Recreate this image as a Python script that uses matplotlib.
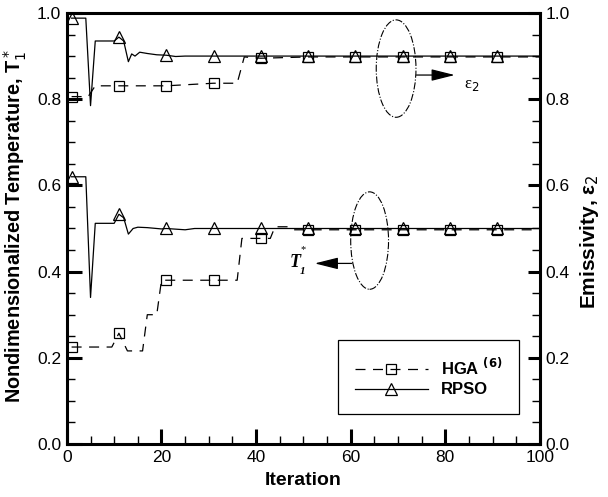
import numpy as np
import matplotlib
matplotlib.use("Agg")
import matplotlib.pyplot as plt
from matplotlib.patches import Ellipse
from matplotlib.ticker import MultipleLocator

plt.rcParams['font.family'] = ['Liberation Sans', 'DejaVu Sans']

# upper group: emissivity eps2
rpso_eps_it = [1, 4, 5, 6, 10, 11, 12, 13, 13.7, 14.4, 15.4, 17, 19, 21, 23, 25, 31, 41, 51, 61, 71, 81, 91, 100]
rpso_eps = [0.988, 0.988, 0.785, 0.935, 0.935, 0.944, 0.935, 0.887, 0.905, 0.900, 0.909, 0.906, 0.903,
            0.902, 0.899, 0.900, 0.900, 0.900, 0.900, 0.900, 0.900, 0.900, 0.900, 0.900]
hga_eps_it = [1, 4.5, 6, 11, 21, 31, 36, 37.5, 41, 51, 61, 71, 81, 91, 100]
hga_eps = [0.806, 0.806, 0.831, 0.831, 0.831, 0.837, 0.837, 0.898, 0.895, 0.898, 0.898, 0.898, 0.898, 0.898, 0.898]

# lower group: temperature T1*
rpso_t_it = [1, 4, 5, 6, 10, 11, 12, 13, 14, 15, 17, 20, 21, 25, 27, 31, 41, 51, 61, 71, 81, 91, 100]
rpso_t = [0.620, 0.620, 0.340, 0.512, 0.512, 0.533, 0.525, 0.487, 0.500, 0.503, 0.502, 0.499,
          0.500, 0.497, 0.500, 0.500, 0.500, 0.500, 0.500, 0.500, 0.500, 0.500, 0.500]
hga_t_it = [1, 9.5, 11, 12.8, 16, 17, 19, 20, 21, 31, 36, 37, 41, 43, 44, 47, 48, 51, 61, 71, 81, 91, 100]
hga_t = [0.225, 0.225, 0.257, 0.216, 0.216, 0.300, 0.300, 0.380, 0.380, 0.380, 0.380, 0.477, 0.477,
         0.477, 0.504, 0.504, 0.497, 0.497, 0.497, 0.497, 0.497, 0.497, 0.497]

marker_its = [1, 11, 21, 31, 41, 51, 61, 71, 81, 91]


def marks(its):
    return [i for i, v in enumerate(its) if v in marker_its]


fig = plt.figure(figsize=(6.08, 4.97), dpi=100)
ax = fig.add_axes([0.110, 0.1066, 0.778, 0.8673])

hga_style = dict(color='k', lw=0.9, dashes=(8, 6), marker='s', ms=7, mfc='none', mec='k', mew=0.9)
rpso_style = dict(color='k', lw=0.9, marker='^', ms=8, mfc='none', mec='k', mew=0.9)

ax.plot(hga_eps_it, hga_eps, markevery=marks(hga_eps_it), label='HGA $^{\\mathbf{(6)}}$', **hga_style)
ax.plot(rpso_eps_it, rpso_eps, markevery=marks(rpso_eps_it), label='RPSO', **rpso_style)
ax.plot(hga_t_it, hga_t, markevery=marks(hga_t_it), **hga_style)
ax.plot(rpso_t_it, rpso_t, markevery=marks(rpso_t_it), **rpso_style)

ax.set_xlim(0, 100)
ax.set_ylim(0, 1)
ax.xaxis.set_major_locator(MultipleLocator(20))
ax.xaxis.set_minor_locator(MultipleLocator(5))
ax.yaxis.set_major_locator(MultipleLocator(0.2))
ax.yaxis.set_minor_locator(MultipleLocator(0.05))
ax.yaxis.set_major_formatter(plt.FormatStrFormatter('%.1f'))
for s in ax.spines.values():
    s.set_linewidth(2.2)
ax.tick_params(which='major', direction='in', length=11, width=2.2, labelsize=12.5, pad=4)
ax.tick_params(which='minor', direction='in', length=6, width=1.0)

ax2 = ax.twinx()
ax2.set_ylim(0, 1)
ax2.yaxis.set_major_locator(MultipleLocator(0.2))
ax2.yaxis.set_minor_locator(MultipleLocator(0.05))
ax2.yaxis.set_major_formatter(plt.FormatStrFormatter('%.1f'))
ax2.tick_params(which='major', direction='in', length=9, width=2.2, labelsize=12.5, pad=4)
ax2.tick_params(which='minor', direction='in', length=6, width=1.0)

ax.set_xlabel('Iteration', fontsize=14, fontweight='bold', labelpad=5)
ax.set_ylabel('Nondimensionalized Temperature, T$_1^*$', fontsize=14.3, fontweight='bold')
ax.yaxis.set_label_coords(-0.080, 0.505)
ax2.set_ylabel('Emissivity, ε$_2$', fontsize=15, fontweight='bold')
ax2.yaxis.set_label_coords(1.080, 0.47)

# ellipses and arrows
ax.add_patch(Ellipse((69.6, 0.871), 8.4, 0.226, fill=False, ls='-.', lw=0.8, color='k'))
ax.add_patch(Ellipse((64.0, 0.472), 8.0, 0.226, fill=False, ls='-.', lw=0.8, color='k'))
arr = dict(arrowstyle='-|>,head_length=1.2,head_width=0.3', mutation_scale=12, lw=0.9, color='k',
           shrinkA=0, shrinkB=0)
ax.annotate('', xy=(82, 0.856), xytext=(73.9, 0.856), arrowprops=arr)
ax.annotate('', xy=(52.4, 0.419), xytext=(60.2, 0.419), arrowprops=arr)
ax.text(84.0, 0.834, 'ε$_2$', fontsize=12, family='Liberation Serif', va='center', ha='left')
ax.text(48.2, 0.422, 'T', fontsize=13, family='Liberation Serif', fontweight='bold', style='italic',
        va='center', ha='center')
ax.text(50.0, 0.452, '*', fontsize=7.5, family='Liberation Serif', va='center', ha='center')
ax.text(49.8, 0.400, '1', fontsize=8, family='Liberation Serif', fontweight='bold', style='italic',
        va='center', ha='center')

leg = ax.legend(loc='center', bbox_to_anchor=(0.765, 0.155), fontsize=12, handlelength=4.4,
                frameon=True, fancybox=False, edgecolor='k', framealpha=1, borderpad=1.0,
                labelspacing=0.25, handletextpad=0.8, borderaxespad=0)
leg.get_frame().set_linewidth(0.9)
for t in leg.get_texts():
    t.set_fontweight('bold')

fig.savefig('out.png', dpi=100)
